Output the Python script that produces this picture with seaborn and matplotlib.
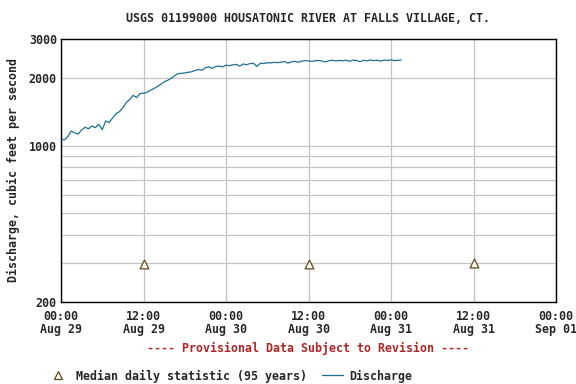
import numpy as np
import pandas as pd
import matplotlib
matplotlib.use("Agg")
import matplotlib.pyplot as plt
import matplotlib.dates as mdates
from matplotlib.lines import Line2D
import seaborn as sns

# ---- data ----
start_time = "2011-08-29 00:00"
step_minutes = 30
discharge_cfs = [
    1068, 1062, 1100, 1165, 1140, 1128, 1175, 1210, 1190, 1225,
    1205, 1245, 1180, 1290, 1270, 1330, 1390, 1420, 1480, 1560,
    1610, 1680, 1640, 1710, 1716, 1730, 1770, 1800, 1840, 1880,
    1930, 1960, 2000, 2050, 2100, 2106, 2115, 2130, 2140, 2170,
    2190, 2175, 2230, 2250, 2220, 2260, 2270, 2250, 2290, 2280,
    2300, 2310, 2270, 2320, 2300, 2330, 2335, 2260, 2340, 2330,
    2350, 2345, 2360, 2350, 2365, 2380, 2340, 2370, 2385, 2360,
    2390, 2400, 2395, 2380, 2400, 2405, 2390, 2370, 2400, 2410,
    2395, 2405, 2400, 2410, 2385, 2415, 2405, 2375, 2410, 2395,
    2420, 2400, 2410, 2390, 2415, 2405, 2420, 2400, 2410, 2415,
]
median_times = ["2011-08-29 12:00", "2011-08-30 12:00", "2011-08-31 12:00"]
median_cfs = [295, 295, 300]

title = "USGS 01199000 HOUSATONIC RIVER AT FALLS VILLAGE, CT."
ylabel = "Discharge, cubic feet per second"
note = "---- Provisional Data Subject to Revision ----"
legend_labels = ["Median daily statistic (95 years)", "Discharge"]
ytick_values = [200, 300, 400, 500, 600, 700, 800, 900, 1000, 2000, 3000]
ytick_labels = ["200", "", "", "", "", "", "", "", "1000", "2000", "3000"]
xlim = ("2011-08-29 00:00", "2011-09-01 00:00")

# ---- frames ----
df = pd.DataFrame({
    "time": pd.date_range(start_time, periods=len(discharge_cfs), freq=f"{step_minutes}min"),
    "cfs": discharge_cfs,
})
dm = pd.DataFrame({"time": pd.to_datetime(median_times), "cfs": median_cfs})

sns.set_theme(style="white")
plt.rcParams["font.family"] = ["DejaVu Sans Mono"]
plt.rcParams["font.weight"] = "bold"

fig = plt.figure(figsize=(5.76, 3.84), dpi=100)
ax = fig.add_axes([61/576, 1 - 302/384, 495/576, 263/384])

line_color = "#1f7090"
tri_edge = "#5a4a20"
tri_face = "#fffdf0"
sns.lineplot(data=df, x="time", y="cfs", ax=ax, color=line_color, linewidth=0.9)
sns.scatterplot(data=dm, x="time", y="cfs", ax=ax, marker="^", s=40,
                facecolor=tri_face, edgecolor=tri_edge, linewidth=0.9, zorder=5)

ax.set_yscale("log")
ax.set_ylim(200, 3000)
ax.set_xlim(pd.Timestamp(xlim[0]), pd.Timestamp(xlim[1]))
ax.yaxis.set_major_locator(matplotlib.ticker.FixedLocator(ytick_values))
ax.yaxis.set_major_formatter(matplotlib.ticker.FixedFormatter(ytick_labels))
ax.yaxis.set_minor_locator(matplotlib.ticker.NullLocator())

ax.xaxis.set_major_locator(mdates.HourLocator(byhour=[0, 12]))
ax.xaxis.set_major_formatter(mdates.DateFormatter("%H:%M\n%b %d"))
ax.xaxis.set_minor_locator(mdates.HourLocator(byhour=range(0, 24, 3)))

ax.grid(True, which="major", color="#c4c4c4", linewidth=0.9)
ax.set_axisbelow(True)
for s in ax.spines.values():
    s.set_color("black")
    s.set_linewidth(1.0)

ax.tick_params(axis="y", length=0, pad=3, labelsize=8.4)
ax.tick_params(axis="x", which="major", length=0, pad=6, labelsize=8.4)
ax.tick_params(axis="x", which="minor", length=3, direction="in", color="black", width=0.8)
for lbl in ax.get_xticklabels() + ax.get_yticklabels():
    lbl.set_fontweight("bold")
    lbl.set_linespacing(1.0)

ax.set_xlabel("")
ax.set_ylabel(ylabel, fontsize=8.4, fontweight="bold", labelpad=6)

fig.text(308/576, 1 - 18/384, title, ha="center", va="center", fontsize=8.4, fontweight="bold")
fig.text(308/576, 1 - 348/384, note, ha="center", va="center", fontsize=8.4,
         fontweight="bold", color="#b02525")

handles = [
    Line2D([], [], linestyle="none", marker="^", markersize=6.3,
           markerfacecolor=tri_face, markeredgecolor=tri_edge, markeredgewidth=0.9),
    Line2D([], [], color=line_color, linewidth=0.9),
]
fig.legend(handles, legend_labels, loc="center left", ncol=2, frameon=False,
           bbox_to_anchor=(37/576, 1 - 376/384), prop={"size": 8.4, "weight": "bold"},
           handlelength=1.8, handletextpad=0.6, columnspacing=1.3)

fig.savefig("out.png", dpi=100)
